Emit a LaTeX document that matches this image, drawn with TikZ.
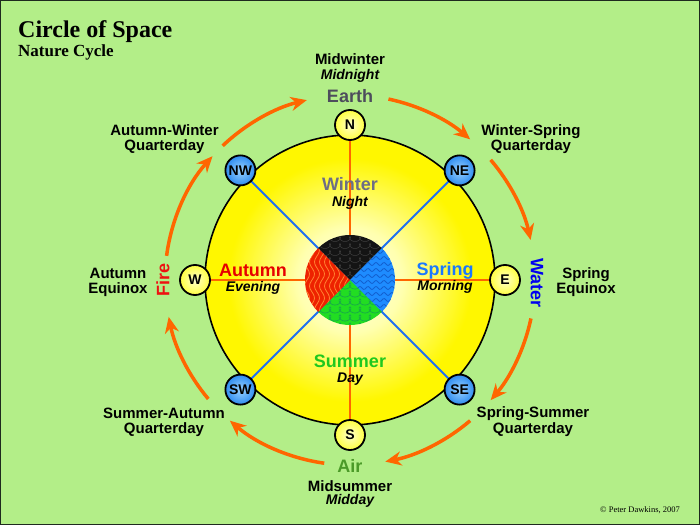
\documentclass[tikz,border=0pt]{standalone}
\usepackage{fontspec}
\setmainfont{Liberation Sans}
\newfontfamily\seriff{Liberation Serif}
\usetikzlibrary{arrows.meta}
\definecolor{bg}{HTML}{B3EE88}
\definecolor{framec}{HTML}{1E2A1E}
\definecolor{orng}{HTML}{FF6600}
\definecolor{blueln}{HTML}{2070F0}
\definecolor{yelA}{HTML}{FFFFE6}
\definecolor{yelB}{HTML}{FFFFB0}
\definecolor{yelC}{HTML}{FFF700}
\definecolor{ynodeA}{HTML}{FFFFCC}
\definecolor{ynodeB}{HTML}{FFFF40}
\definecolor{bnodeA}{HTML}{9AD2FF}
\definecolor{bnodeB}{HTML}{2E8CF0}
\definecolor{qblack}{HTML}{141414}
\definecolor{qblackl}{HTML}{3E3E3E}
\definecolor{qblue}{HTML}{1E8CFF}
\definecolor{qbluel}{HTML}{1260D0}
\definecolor{qgreen}{HTML}{22DD22}
\definecolor{qgreenl}{HTML}{16A050}
\definecolor{qred}{HTML}{EE2200}
\definecolor{qredl}{HTML}{FF8030}
\definecolor{earthc}{HTML}{4D4D5C}
\definecolor{winterc}{HTML}{6E6E85}
\definecolor{springc}{HTML}{1A78FF}
\definecolor{autumnc}{HTML}{E60000}
\definecolor{summerc}{HTML}{1EC81E}
\definecolor{firec}{HTML}{EE1111}
\definecolor{waterc}{HTML}{0000F0}
\definecolor{airc}{HTML}{4B9A28}
\pgfdeclareradialshading{yelsh}{\pgfpoint{0bp}{0bp}}{color(0bp)=(yelA); color(9bp)=(yelB); color(21bp)=(yelC); color(25bp)=(yelC); color(50bp)=(yelC)}
\begin{document}
\begin{tikzpicture}[x=1pt,y=1pt,
  lbl/.style={font=\fontsize{15}{18}\selectfont\bfseries, anchor=base, inner sep=0pt},
  ital/.style={font=\fontsize{14}{16}\selectfont\bfseries\itshape, anchor=base, inner sep=0pt},
  big/.style={font=\fontsize{18}{20}\selectfont\bfseries, anchor=base, inner sep=0pt},
  ynode/.style={circle, draw=black, line width=1.8pt, minimum size=30pt, inner sep=0pt, inner color=ynodeA, outer color=ynodeB, font=\fontsize{14}{14}\selectfont\bfseries},
  bnode/.style={circle, draw=black, line width=1.8pt, minimum size=30pt, inner sep=0pt, inner color=bnodeA, outer color=bnodeB, font=\fontsize{14}{14}\selectfont\bfseries},
  cyc/.style={draw=orng, line width=3.5pt, -{Stealth[length=16pt,width=14pt,inset=5pt]}},
  oline/.style={draw=orng, line width=2pt},
  bline/.style={draw=blueln, line width=2pt}
]
\fill[bg] (-350,-245) rectangle (350,280);
\draw[line width=1.5pt, draw=framec] (-349.25,-244.25) rectangle (349.25,279.25);
\useasboundingbox (-350,-245) rectangle (350,280);

% main circle
\shade[shading=yelsh] (0,0) circle[radius=145];
\draw[line width=1.6pt] (0,0) circle[radius=145];

\foreach \n/\a in {N/90,NE/45,E/0,SE/-45,S/-90,SW/-135,W/180,NW/135}
  \coordinate (c\n) at (\a:155);

\draw[oline] (cN) -- (cS);
\draw[oline] (cW) -- (cE);
\draw[bline] (cNW) -- (cSE);
\draw[bline] (cNE) -- (cSW);

% inner circle quadrants
\begin{scope}
\clip (0,0) -- (45:45) arc[start angle=45,end angle=135,radius=45] -- cycle;
\fill[qblack] (-50,-50) rectangle (50,50);
\foreach \yy in {6,13,...,48}
  \draw[qblackl, line width=0.5pt] plot[domain=0:3600, samples=220, smooth] ({-50+\x/36-2.5*sin(\x)}, {\yy+2.5*cos(\x)});
\end{scope}
\begin{scope}
\clip (0,0) -- (-45:45) arc[start angle=-45,end angle=45,radius=45] -- cycle;
\fill[qblue] (-50,-50) rectangle (50,50);
\foreach \yy in {-44,-38,...,44}
  \draw[qbluel, line width=0.8pt] plot[domain=0:48, samples=40, smooth] (\x, {\yy+1.5*sin(\x*45)});
\end{scope}
\begin{scope}
\clip (0,0) -- (-135:45) arc[start angle=-135,end angle=-45,radius=45] -- cycle;
\fill[qgreen] (-50,-50) rectangle (50,50);
\foreach \yy in {-6,-14,...,-48}
  \draw[qgreenl, line width=0.6pt] plot[domain=0:3600, samples=220, smooth] ({-50+\x/36-3*sin(\x)}, {\yy+3*cos(\x)});
\end{scope}
\begin{scope}
\clip (0,0) -- (135:45) arc[start angle=135,end angle=225,radius=45] -- cycle;
\fill[qred] (-50,-50) rectangle (50,50);
\foreach \xx in {-48,-43,...,0}
  \draw[qredl, line width=0.8pt] plot[domain=-48:48, samples=40, smooth] ({\xx+2.5*sin(\x*15)}, \x);
\end{scope}

% compass nodes
\node[ynode] (N) at (cN) {N};
\node[ynode] (E) at (cE) {E};
\node[ynode] (S) at (cS) {S};
\node[ynode] (W) at (cW) {W};
\node[bnode] (NE) at (cNE) {NE};
\node[bnode] (SE) at (cSE) {SE};
\node[bnode] (SW) at (cSW) {SW};
\node[bnode] (NW) at (cNW) {NW};

% title
\node[anchor=base west, inner sep=0pt, font=\seriff\fontsize{24}{26}\selectfont\bfseries] (title) at (-332,242.3) {Circle of Space};
\node[anchor=base west, inner sep=0pt, font=\seriff\fontsize{17}{19}\selectfont\bfseries] (subtitle) at (-332,223) {Nature Cycle};
\node[anchor=base west, inner sep=0pt, font=\seriff\fontsize{8.5}{10}\selectfont] (copyr) at (250,-232) {© Peter Dawkins, 2007};

% outer labels
\node[lbl] (mw) at (0,215) {Midwinter};
\node[ital] (mn) at (0,200) {Midnight};
\node[big, text=earthc] (earth) at (0,177.3) {Earth};

\node[lbl] (ws1) at (181,145) {Winter-Spring};
\node[lbl] (ws2) at (181,129.3) {Quarterday};
\node[lbl] (aw1) at (-185.5,145) {Autumn-Winter};
\node[lbl] (aw2) at (-185.5,129.3) {Quarterday};

\node[lbl] (se1) at (236,2) {Spring};
\node[lbl] (se2) at (236,-13) {Equinox};
\node[lbl] (ae1) at (-232,2) {Autumn};
\node[lbl] (ae2) at (-232,-13) {Equinox};

\node[big, anchor=center, rotate=-90, text=waterc] (water) at (187,-3) {Water};
\node[big, anchor=center, rotate=90, text=firec] (fire) at (-187,0) {Fire};

\node[lbl] (ss1) at (183,-137) {Spring-Summer};
\node[lbl] (ss2) at (183,-153) {Quarterday};
\node[lbl] (sa1) at (-186,-138) {Summer-Autumn};
\node[lbl] (sa2) at (-186,-153) {Quarterday};

\node[big, text=airc] (air) at (0,-192.7) {Air};
\node[lbl] (ms) at (0,-211) {Midsummer};
\node[ital] (md) at (0,-224.5) {Midday};

% inner labels
\node[big, text=winterc] (winter) at (0,89.3) {Winter};
\node[ital] (night) at (0,73.3) {Night};
\node[big, text=springc] (spring) at (95,4.3) {Spring};
\node[ital] (morning) at (95,-10.7) {Morning};
\node[big, text=autumnc] (autumn) at (-97,4) {Autumn};
\node[ital] (evening) at (-97,-11) {Evening};
\node[big, text=summerc] (summer) at (0,-87.3) {Summer};
\node[ital] (day) at (0,-102.7) {Day};

% cycle arrows
\draw[cyc] (78:185) arc[start angle=78, end angle=49.5, radius=185];
\draw[cyc] (40.5:185) arc[start angle=40.5, end angle=12.5, radius=185];
\draw[cyc] (-12:185) arc[start angle=-12, end angle=-40.5, radius=185];
\draw[cyc] (-49.5:185) arc[start angle=-49.5, end angle=-79, radius=185];
\draw[cyc] (-98:185) arc[start angle=-98, end angle=-130.5, radius=185];
\draw[cyc] (-140:185) arc[start angle=-140, end angle=-168.5, radius=185];
\draw[cyc] (172.5:185) arc[start angle=172.5, end angle=138, radius=185];
\draw[cyc] (133.5:185) arc[start angle=133.5, end angle=103.5, radius=185];
\end{tikzpicture}
\end{document}
